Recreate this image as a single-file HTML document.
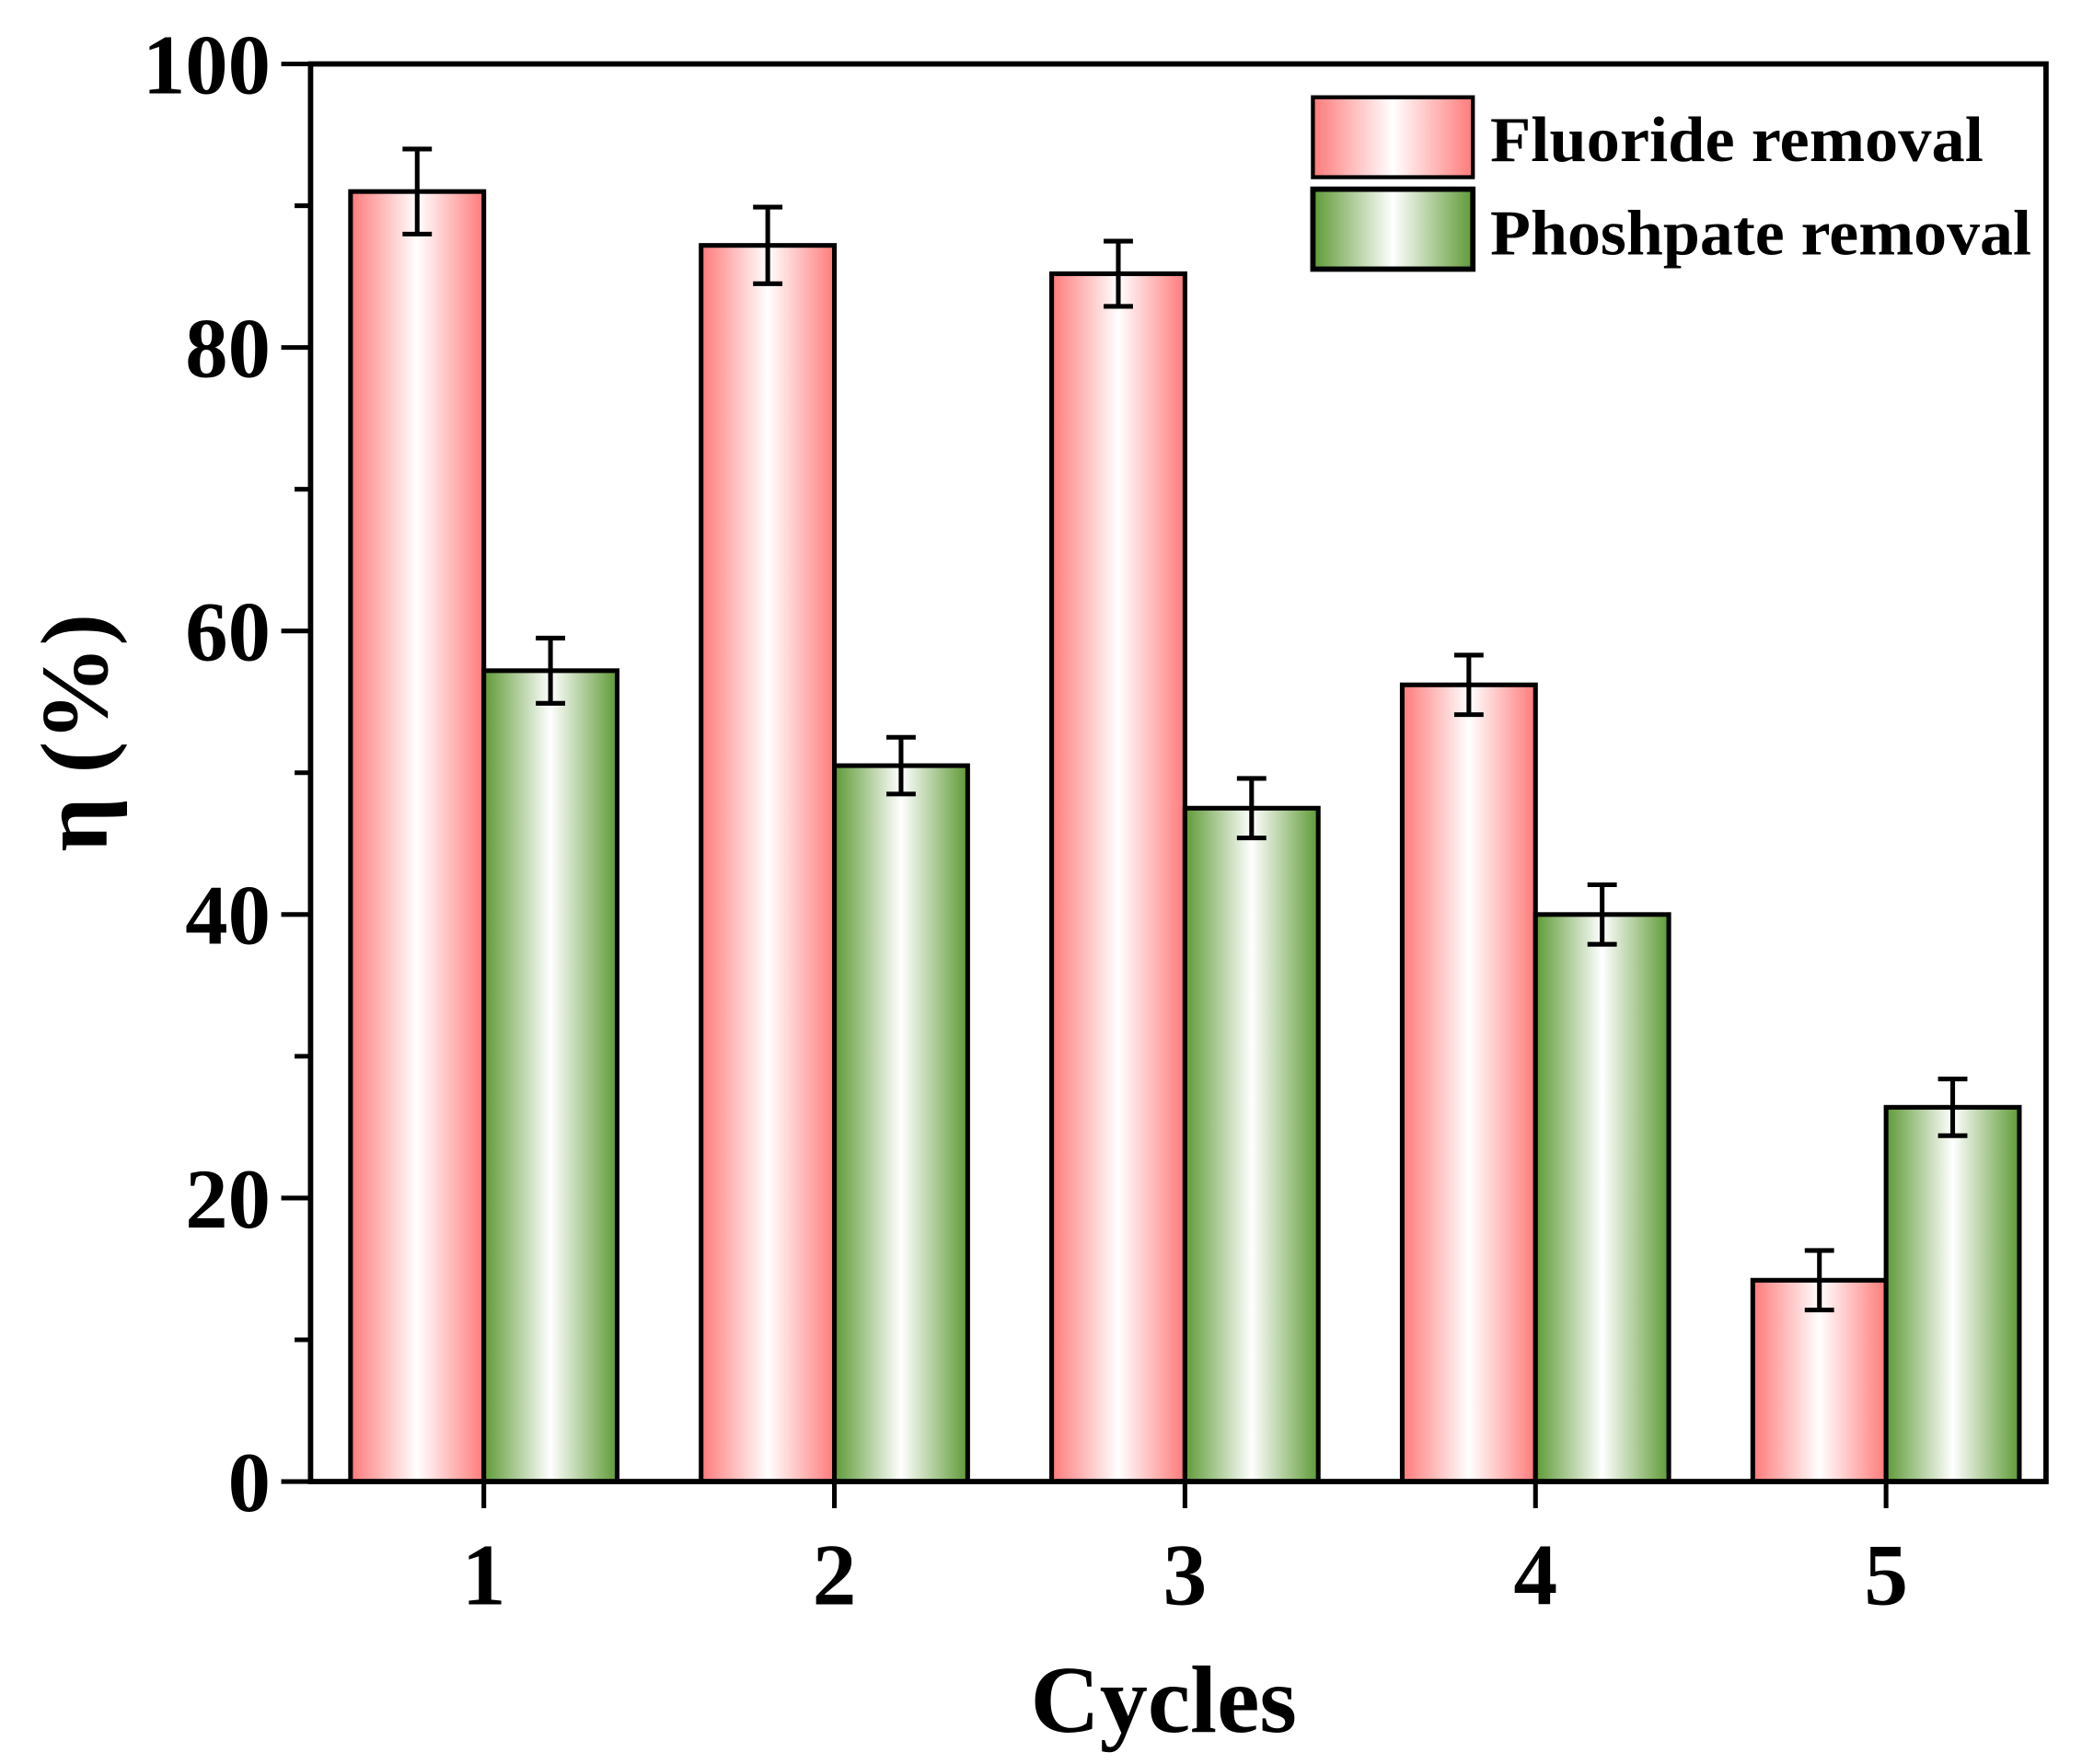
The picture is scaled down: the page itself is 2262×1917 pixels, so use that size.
<!DOCTYPE html>
<html><head><meta charset="utf-8"><style>html,body{margin:0;padding:0;background:#fff}svg{display:block}</style></head>
<body>
<svg id="chart" width="2262" height="1917" viewBox="0 0 1562 1324" preserveAspectRatio="none" xmlns="http://www.w3.org/2000/svg" font-family="'Liberation Serif', serif" font-weight="bold">
<defs>
<linearGradient id="gRed" x1="0" x2="1" y1="0" y2="0">
<stop offset="0" stop-color="#ff7a7a"/><stop offset="0.5" stop-color="#ffffff"/><stop offset="1" stop-color="#ff7a7a"/></linearGradient>
<linearGradient id="gGreen" x1="0" x2="1" y1="0" y2="0">
<stop offset="0" stop-color="#5e9a35"/><stop offset="0.5" stop-color="#ffffff"/><stop offset="1" stop-color="#5e9a35"/></linearGradient>
</defs>
<g id="plot"></g>
</svg>
<script>
const categories = ["1","2","3","4","5"];
const fluoride = [91.0, 87.2, 85.2, 56.2, 14.2];
const fluorideErr = [3.0, 2.7, 2.3, 2.1, 2.1];
const phosphate = [57.2, 50.5, 47.5, 40.0, 26.4];
const phosphateErr = [2.3, 2.0, 2.1, 2.1, 2.0];
const yTicks = [0, 20, 40, 60, 80, 100];

const NS = "http://www.w3.org/2000/svg";
const g = document.getElementById('plot');
const L = 233, R = 1535, T = 48, B = 1112;
const yS = v => B - (v / 100) * (B - T);
const xC = i => 363 + i * 263;
const bw = 100;
function mk(tag, attrs, parent) {
  const e = document.createElementNS(NS, tag);
  for (const k in attrs) e.setAttribute(k, attrs[k]);
  (parent || g).appendChild(e);
  return e;
}
function series(vals, errs, off, fill, name) {
  vals.forEach((v, i) => {
    const x = xC(i) + off;
    const r = mk('rect', {x: x, y: yS(v), width: bw, height: B - yS(v), fill: fill, stroke: '#000', 'stroke-width': 3.5});
    
    
    const cx = x + bw / 2, y1 = yS(v + errs[i]), y2 = yS(v - errs[i]);
    const eg = mk('g', {stroke: '#000', 'stroke-width': 3.5});
    
    
    mk('line', {x1: cx, x2: cx, y1: y1, y2: y2}, eg);
    mk('line', {x1: cx - 11, x2: cx + 11, y1: y1, y2: y1}, eg);
    mk('line', {x1: cx - 11, x2: cx + 11, y1: y2, y2: y2}, eg);
  });
}
series(fluoride, fluorideErr, -bw, 'url(#gRed)', 'fluoride');
series(phosphate, phosphateErr, 0, 'url(#gGreen)', 'phosphate');

const fr = mk('rect', {x: L, y: T, width: R - L, height: B - T, fill: 'none', stroke: '#000', 'stroke-width': 4});



for (let v = 0; v <= 100; v += 10) {
  const major = v % 20 === 0;
  mk('line', {x1: L - (major ? 22 : 12), x2: L, y1: yS(v), y2: yS(v), stroke: '#000', 'stroke-width': 3.5});
}
yTicks.forEach(v => {
  const t = mk('text', {x: L - 30, y: yS(v) + 22, 'text-anchor': 'end', 'font-size': 64});
  t.textContent = v;
  
  
});
categories.forEach((c, i) => {
  mk('line', {x1: xC(i), x2: xC(i), y1: B, y2: B + 20, stroke: '#000', 'stroke-width': 3.5});
  const t = mk('text', {x: xC(i), y: B + 92, 'text-anchor': 'middle', 'font-size': 66});
  t.textContent = c;
  
  
});
const xt = mk('text', {x: 873, y: 1300, 'text-anchor': 'middle', 'font-size': 72});
xt.textContent = 'Cycles';


const yt = mk('text', {x: 0, y: 0, 'text-anchor': 'middle', 'font-size': 72, transform: 'translate(80 550) rotate(-90)'});
yt.textContent = 'η (%)';



const lg = mk('g', {});


const le1 = mk('g', {}, lg);


mk('rect', {x: 985, y: 73, width: 120, height: 60, fill: 'url(#gRed)', stroke: '#000', 'stroke-width': 3}, le1);
const lt1 = mk('text', {x: 1118, y: 121, 'font-size': 48, textLength: 370, lengthAdjust: 'spacingAndGlyphs'}, le1);
lt1.textContent = 'Fluoride removal';
const le2 = mk('g', {}, lg);


mk('rect', {x: 985, y: 142, width: 120, height: 60, fill: 'url(#gGreen)', stroke: '#000', 'stroke-width': 4}, le2);
const lt2 = mk('text', {x: 1118, y: 191, 'font-size': 48, textLength: 406, lengthAdjust: 'spacingAndGlyphs'}, le2);
lt2.textContent = 'Phoshpate removal';
</script>
</body></html>
